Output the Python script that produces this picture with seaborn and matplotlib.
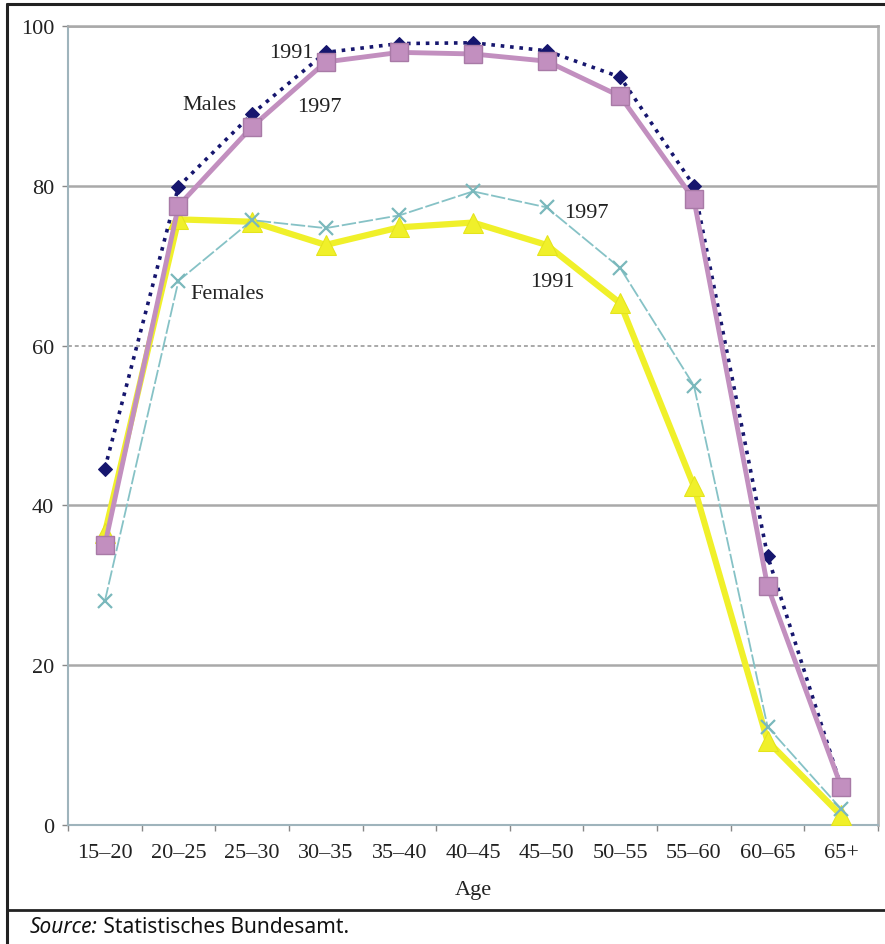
import matplotlib
matplotlib.use("Agg")
import matplotlib.pyplot as plt
from matplotlib.lines import Line2D
import seaborn as sns
import pandas as pd

# ---- data ----
ages = ["15\u201320", "20\u201325", "25\u201330", "30\u201335", "35\u201340", "40\u201345",
        "45\u201350", "50\u201355", "55\u201360", "60\u201365", "65+"]
males_1991 = [44.6, 79.9, 89.0, 96.7, 97.8, 97.9, 96.9, 93.6, 80.0, 33.7, 4.8]
males_1997 = [35.0, 77.5, 87.4, 95.5, 96.7, 96.5, 95.6, 91.2, 78.3, 29.9, 4.8]
females_1991 = [36.5, 75.8, 75.5, 72.6, 74.8, 75.4, 72.6, 65.3, 42.4, 10.5, 1.2]
females_1997 = [28.0, 68.1, 75.7, 74.7, 76.3, 79.3, 77.3, 69.7, 55.0, 12.3, 2.0]
y_ticks = [0, 20, 40, 60, 80, 100]

sns.set_style("white")
plt.rcParams["font.family"] = ["Liberation Serif", "DejaVu Serif"]

fig = plt.figure(figsize=(8.85, 9.45), dpi=100)
ax = fig.add_axes([68/885, 1-826/945, 810/885, 799/945])

# gridlines
grid_c = "#a9a9a9"
for yv in y_ticks[1:]:
    if yv == 60:
        ax.axhline(yv, color=grid_c, lw=1.4, ls=(0, (2, 1.5)), zorder=0)
    else:
        ax.axhline(yv, color=grid_c, lw=1.8, zorder=0)

pos = list(range(len(ages)))
df = pd.DataFrame({"pos": pos, "m91": males_1991, "m97": males_1997,
                   "f91": females_1991, "f97": females_1997})

sns.lineplot(data=df, x="pos", y="f91", ax=ax, color="#f0f02a", lw=4.5,
             marker="^", markersize=14, markeredgecolor="#e4e41c", zorder=3)
sns.lineplot(data=df, x="pos", y="f97", ax=ax, color="#86c2c6", lw=1.3,
             linestyle=(0, (8, 1.5)), marker="x", markersize=10,
             markeredgewidth=1.6, markeredgecolor="#7ab8bc", zorder=4)
sns.lineplot(data=df, x="pos", y="m91", ax=ax, color="#16166e", lw=2.6,
             linestyle=(0, (1, 1.6)), marker="D", markersize=7.5,
             markeredgecolor="#16166e", zorder=5)
sns.lineplot(data=df, x="pos", y="m97", ax=ax, color="#c28fbf", lw=3.5,
             marker="s", markersize=13.5, markeredgecolor="#a87aa6",
             markeredgewidth=1.0, zorder=6)

ax.set_xlim(-0.5, len(ages) - 0.5)
ax.set_ylim(0, 100)
ax.set_xticks(pos)
ax.set_xticklabels(ages)
ax.set_xticks([p - 0.5 for p in pos] + [len(ages) - 0.5], minor=True)
ax.set_yticks(y_ticks)
ax.tick_params(axis="x", which="major", length=0, pad=13, labelsize=16,
               labelcolor="#222222")
ax.tick_params(axis="x", which="minor", length=4, width=1, color="#888888",
               direction="out", bottom=True)
ax.tick_params(axis="y", length=4, width=1, color="#888888", direction="out",
               pad=6, labelsize=16, labelcolor="#222222", left=True)
ax.set_xlabel("Age", fontsize=16, labelpad=13, color="#222222")
ax.set_ylabel("")

for side in ["left", "bottom"]:
    ax.spines[side].set_color("#9fb4bc")
    ax.spines[side].set_linestyle((0, (1.5, 1)))
    ax.spines[side].set_linewidth(1.5)
ax.spines["right"].set_color("#b5b5b5")
ax.spines["right"].set_linewidth(2)
ax.spines["top"].set_color(grid_c)
ax.spines["top"].set_linewidth(1.8)

# annotations
ann = dict(fontsize=16, ha="center", va="center", color="#222222", zorder=10)
ax.text(2.53, 96.7, "1991", **ann)
ax.text(1.42, 90.2, "Males", **ann)
ax.text(2.91, 89.9, "1997", **ann)
ax.text(1.67, 66.5, "Females", **ann)
ax.text(6.54, 76.7, "1997", **ann)
ax.text(6.08, 68.0, "1991", **ann)

# frame lines
fc = "#222222"
fig.add_artist(Line2D([7/885, 1], [1-5/945, 1-5/945], color=fc, lw=2.2,
                      transform=fig.transFigure))
fig.add_artist(Line2D([7/885, 7/885], [0, 1-5/945], color=fc, lw=2.2,
                      transform=fig.transFigure))
fig.add_artist(Line2D([7/885, 1], [1-911/945, 1-911/945], color=fc, lw=2.0,
                      transform=fig.transFigure))

# source
t1 = fig.text(30/885, 1-928/945, "Source:", fontsize=15, style="italic",
              family=["Noto Sans", "DejaVu Sans"], va="center", ha="left",
              color="#111111")
ax.annotate(" Statistisches Bundesamt.", xy=(1, 0.5), xycoords=t1,
            va="center", ha="left", fontsize=15,
            family=["Noto Sans", "DejaVu Sans"], color="#111111",
            annotation_clip=False)

fig.savefig("out.png", dpi=100)
